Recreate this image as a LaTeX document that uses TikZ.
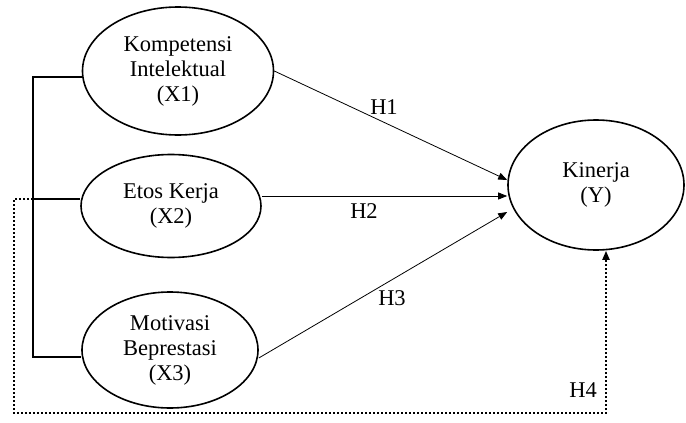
\documentclass[tikz,border=0pt]{standalone}
\usepackage{fontspec}
\setmainfont{Liberation Serif}
\usetikzlibrary{shapes.geometric,arrows.meta}
\tikzset{
  var/.style={draw, ellipse, line width=1.6pt, inner sep=0pt, align=center, font=\fontsize{22.5}{25}\selectfont},
  lbl/.style={font=\fontsize{22.5}{25}\selectfont, inner sep=0pt},
  path/.style={line width=0.8pt, -{Triangle[length=9pt,width=7pt]}},
  bracket/.style={line width=1.8pt},
  dots/.style={line width=2pt, dash pattern=on 2pt off 2pt},
}
\begin{document}
\begin{tikzpicture}[x=1pt,y=-1pt]
\useasboundingbox (0,0) rectangle (686,423);
\node[var, minimum width=191pt, minimum height=128pt] (x1) at (178,71) {Kompetensi\\Intelektual\\(X1)};
\node[var, minimum width=180pt, minimum height=103pt] (x2) at (171,206) {Etos Kerja\\(X2)};
\node[var, minimum width=176pt, minimum height=116pt] (x3) at (170,350) {Motivasi\\Beprestasi\\(X3)};
\node[var, minimum width=176pt, minimum height=130pt] (y) at (596,185) {Kinerja\\(Y)};
% arrows
\draw[path] (x1.east) -- ([yshift=5pt]y.west);
\draw[path] ([yshift=10pt]x2.east) -- ([yshift=-11pt]y.west);
\draw[path] ([yshift=-8pt]x3.east) -- ([yshift=-27pt]y.west);
% bracket
\coordinate (b1) at (33,77);
\coordinate (b2) at (33,199);
\coordinate (b3) at (33,357);
\draw[bracket] (x1.west |- b1) -- (b1) -- (b3) -- (x3.west |- b3);
\draw[bracket] (b2) -- (x2.west |- b2);
% dotted H4
\coordinate (d1) at (14,199);
\coordinate (d2) at (14,413);
\coordinate (d3) at (606,413);
\draw[dots, -{Triangle[length=9pt,width=7pt]}] (b2) -- (d1) -- (d2) -- (d3) -- ([xshift=10pt]y.south);
% labels
\node[lbl] (h1) at (384,107) {H1};
\node[lbl] (h2) at (364,211) {H2};
\node[lbl] (h3) at (392,298) {H3};
\node[lbl] (h4) at (583,390) {H4};
\end{tikzpicture}
\end{document}
